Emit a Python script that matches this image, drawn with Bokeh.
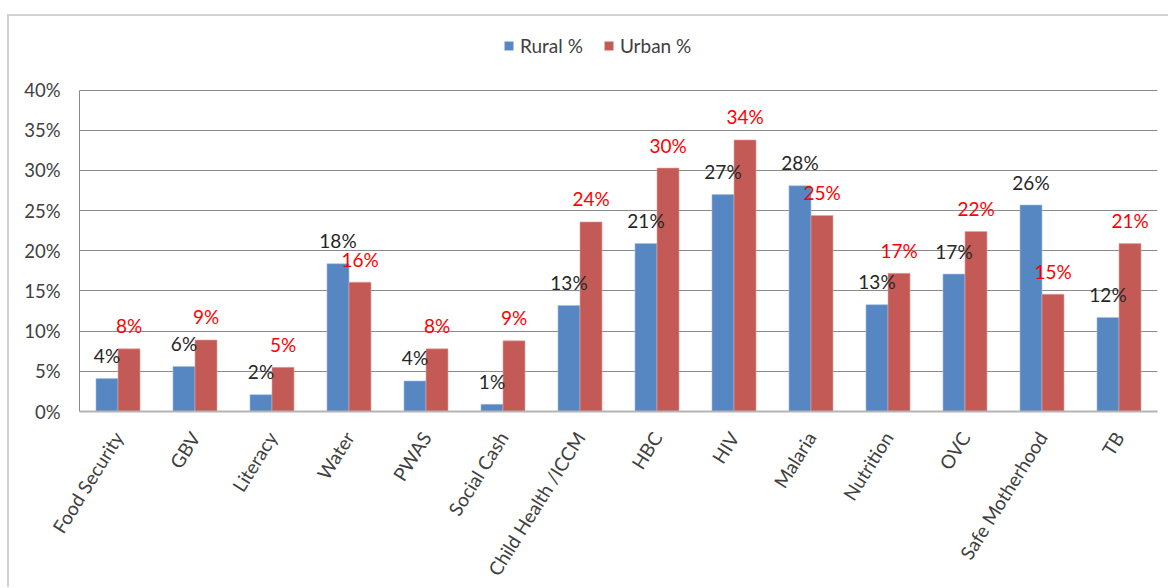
import math
from bokeh.plotting import figure
from bokeh.models import (ColumnDataSource, Legend, LegendItem, PrintfTickFormatter,
                          FixedTicker, InlineStyleSheet)
from bokeh.transform import dodge
from bokeh.core.properties import value
from bokeh.embed import file_html
from bokeh.resources import INLINE

categories = ["Food Security", "GBV", "Literacy", "Water", "PWAS", "Social Cash",
              "Child Health /ICCM", "HBC", "HIV", "Malaria", "Nutrition", "OVC",
              "Safe Motherhood", "TB"]
rural = [4.1, 5.6, 2.1, 18.4, 3.8, 0.9, 13.2, 20.9, 27.0, 28.1, 13.3, 17.1, 25.7, 11.7]
urban = [7.8, 8.9, 5.5, 16.1, 7.8, 8.8, 23.6, 30.3, 33.8, 24.4, 17.2, 22.4, 14.6, 20.9]
rural_labels = ["4%", "6%", "2%", "18%", "4%", "1%", "13%", "21%", "27%", "28%",
                "13%", "17%", "26%", "12%"]
urban_labels = ["8%", "9%", "5%", "16%", "8%", "9%", "24%", "30%", "34%", "25%",
                "17%", "22%", "15%", "21%"]
y_ticks = [0, 5, 10, 15, 20, 25, 30, 35, 40]

FONT = "Lato"
BLUE = "#5687C3"
RED = "#C45A56"
TXT = "#404040"

# plot frame runs from canvas y=20 to y=413; the 40% line sits at y=90
Y_AXIS_MAX = 40
Y_VIEW_MAX = 40 * (413 - 20) / (413 - 90)

src = ColumnDataSource(dict(cat=categories, rural=rural, urban=urban,
                            rl=rural_labels, ul=urban_labels))

p = figure(x_range=categories, y_range=(0, Y_VIEW_MAX), width=1168, height=588,
           output_backend="svg", toolbar_location=None,
           min_border_left=79, min_border_right=11, min_border_top=20,
           min_border_bottom=174)
p.outline_line_color = None
p.background_fill_color = "white"
p.border_fill_color = "white"

bw = 0.286
r1 = p.vbar(x=dodge("cat", -bw / 2, range=p.x_range), top="rural", width=bw,
            source=src, fill_color=BLUE, line_color="#a5bfe0", line_width=0.6)
r2 = p.vbar(x=dodge("cat", bw / 2, range=p.x_range), top="urban", width=bw,
            source=src, fill_color=RED, line_color="#e3a5a3", line_width=0.6)

p.text(x=dodge("cat", -bw / 2, range=p.x_range), y="rural", text="rl", source=src,
       text_align="center", text_baseline="alphabetic", y_offset=-23,
       text_font=value(FONT), text_font_size="19px", text_color="#262626")
p.text(x=dodge("cat", bw / 2, range=p.x_range), y="urban", text="ul", source=src,
       text_align="center", text_baseline="alphabetic", y_offset=-23,
       text_font=value(FONT), text_font_size="19px", text_color="#FF0000")

# axes
p.xgrid.grid_line_color = None
p.ygrid.grid_line_color = "#8a8a8a"
p.ygrid.grid_line_width = 1
p.yaxis.ticker = FixedTicker(ticks=y_ticks)
p.yaxis.formatter = PrintfTickFormatter(format="%d%%")
p.yaxis.bounds = (0, Y_AXIS_MAX)
for ax in (p.xaxis, p.yaxis):
    ax.major_tick_line_color = None
    ax.minor_tick_line_color = None
    ax.major_tick_out = 0
    ax.major_tick_in = 0
    ax.major_label_text_font = FONT
    ax.major_label_text_color = TXT
p.yaxis.major_label_text_font_size = "18.5px"
p.xaxis.major_label_text_font_size = "19px"
p.yaxis.axis_line_color = "#8a8a8a"
p.xaxis.axis_line_color = "#b4b4b4"
p.xaxis.axis_line_width = 2
p.yaxis.major_label_standoff = 19
p.xaxis.major_label_standoff = 22
p.xaxis.major_label_orientation = math.radians(58)
p.x_range.range_padding = 0

legend = Legend(items=[LegendItem(label="Rural %", renderers=[r1]),
                       LegendItem(label="Urban %", renderers=[r2])],
                orientation="horizontal", location=(424, 354),
                background_fill_alpha=0, border_line_color=None,
                label_text_font=FONT, label_text_font_size="19px",
                label_text_color=TXT, glyph_width=11, glyph_height=11,
                label_standoff=6, spacing=20, padding=0, margin=0,
                label_height=20)
p.add_layout(legend)

frame_css = InlineStyleSheet(css="""
:host::after {
  content: "";
  position: absolute;
  left: 7px;
  top: 14px;
  width: 1100px;
  height: 573px;
  box-sizing: border-box;
  border-left: 2px solid #d2d2d2;
  border-top: 2px solid #d2d2d2;
  pointer-events: none;
  z-index: 10;
}
:host::before {
  content: "";
  position: absolute;
  left: 1100px;
  top: 14px;
  width: 68px;
  height: 2px;
  background: #d2d2d2;
  pointer-events: none;
  z-index: 10;
}
""")
p.stylesheets = [frame_css]

open("out.html", "w").write(file_html(p, INLINE))
